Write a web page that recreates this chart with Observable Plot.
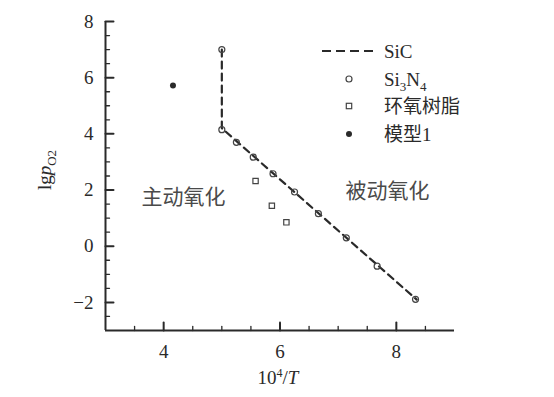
<!DOCTYPE html>
<html><head><meta charset="utf-8">
<script src="https://cdn.jsdelivr.net/npm/d3@7"></script>
<script src="https://cdn.jsdelivr.net/npm/@observablehq/plot@0.6"></script>
<style>body{margin:0;background:#fff} #chart svg{display:block}</style>
</head><body><div id="chart"></div>
<script>
// ---- data ----
const sicX = [5, 5, 8.35];
const sicY = [7, 4.2, -1.9];
const si3n4X = [5, 5, 5.25, 5.54, 5.88, 6.25, 6.66, 7.14, 7.67, 8.33];
const si3n4Y = [7, 4.15, 3.70, 3.17, 2.58, 1.93, 1.16, 0.30, -0.71, -1.89];
const epoxyX = [5.58, 5.86, 6.11];
const epoxyY = [2.32, 1.44, 0.85];
const modelX = [4.16];
const modelY = [5.72];
const regionLabels = ["主动氧化", "被动氧化"];
const regionX = [4.34, 7.85];
const regionY = [1.74, 1.95];
const xTicks = [4, 6, 8];
const yTicks = [-2, 0, 2, 4, 6, 8];
const xMinor = [3.5, 4.5, 5, 5.5, 6.5, 7, 7.5, 8.5];
const yMinor = [-2.5, -1.5, -1, -0.5, 0.5, 1, 1.5, 2.5, 3, 3.5, 4.5, 5, 5.5, 6.5, 7, 7.5];

const zip = (xs, ys) => xs.map((x, i) => ({x, y: ys[i]}));
const ink = "#2a2a2a";
const serif = "'Liberation Serif', 'DejaVu Serif', serif";
const cjk = "'Liberation Serif', 'Noto Sans CJK SC', sans-serif";
const stick = {draw(context, l) { context.moveTo(0, 0); context.lineTo(0, -l); }};
const fmt = d => d < 0 ? "\u2212" + Math.abs(d) : String(d);

const plot = Plot.plot({
  width: 554, height: 397,
  marginLeft: 105, marginRight: 100, marginTop: 21, marginBottom: 67,
  style: {fontFamily: serif, fontSize: "19px", color: ink, background: "#fff"},
  x: {domain: [3, 9]},
  y: {domain: [-3, 8]},
  marks: [
    // inward major / minor ticks
    Plot.vector(xTicks, {x: d => d, y: -3, length: 8, rotate: 0, anchor: "start", shape: stick, stroke: ink, strokeWidth: 2}),
    Plot.vector(xMinor, {x: d => d, y: -3, length: 4, rotate: 0, anchor: "start", shape: stick, stroke: ink, strokeWidth: 1.3}),
    Plot.vector(yTicks, {x: 3, y: d => d, length: 8, rotate: 90, anchor: "start", shape: stick, stroke: ink, strokeWidth: 2}),
    Plot.vector(yMinor, {x: 3, y: d => d, length: 4, rotate: 90, anchor: "start", shape: stick, stroke: ink, strokeWidth: 1.3}),
    Plot.ruleX([3], {stroke: ink, strokeWidth: 2}),
    Plot.ruleY([-3], {stroke: ink, strokeWidth: 2}),
    // tick labels
    Plot.axisX({ticks: xTicks, tickSize: 0, tickPadding: 14, label: null, fill: ink, fontSize: 19, tickFormat: fmt}),
    Plot.axisY({ticks: yTicks, tickSize: 0, tickPadding: 12, label: null, fill: ink, fontSize: 19, tickFormat: fmt}),
    // data
    Plot.line(zip(sicX, sicY), {x: "x", y: "y", stroke: ink, strokeWidth: 2.2, strokeDasharray: "7,5"}),
    Plot.dot(zip(si3n4X, si3n4Y), {x: "x", y: "y", r: 3, stroke: "#444", strokeWidth: 1.2, fill: "none"}),
    Plot.dot(zip(epoxyX, epoxyY), {x: "x", y: "y", symbol: "square", r: 3, stroke: "#444", strokeWidth: 1.2, fill: "none"}),
    Plot.dot(zip(modelX, modelY), {x: "x", y: "y", r: 3, fill: ink, stroke: "none"}),
    Plot.text(regionLabels.map((t, i) => ({t, x: regionX[i], y: regionY[i]})),
      {x: "x", y: "y", text: "t", fontSize: 21, fill: "#4a4a4a", fontFamily: "'Noto Sans CJK SC', sans-serif"})
  ]
});
document.getElementById("chart").appendChild(plot);

// axis titles and legend (rich text with sub/superscripts)
const svg = d3.select(plot);
const yl = svg.append("text")
  .attr("transform", "translate(51,170) rotate(-90)")
  .attr("text-anchor", "middle").attr("fill", ink)
  .style("font-family", serif).style("font-size", "19px");
yl.append("tspan").text("lg");
yl.append("tspan").attr("font-style", "italic").text("p");
yl.append("tspan").attr("dy", 5).style("font-size", "13px").text("O2");

const xl = svg.append("text")
  .attr("x", 278).attr("y", 384)
  .attr("text-anchor", "middle").attr("fill", ink)
  .style("font-family", serif).style("font-size", "19px");
xl.append("tspan").text("10");
xl.append("tspan").attr("dy", -7).style("font-size", "12px").text("4");
xl.append("tspan").attr("dy", 7).text("/");
xl.append("tspan").attr("font-style", "italic").text("T");

const lg = svg.append("g").style("font-family", cjk).style("font-size", "19px")
  .attr("fill", ink).attr("text-anchor", "start");
const rowY = [51, 79, 106, 134];
const mx = 349, tx = 384;
lg.append("line").attr("x1", 322).attr("x2", 378).attr("y1", rowY[0]).attr("y2", rowY[0])
  .attr("stroke", ink).attr("stroke-width", 2.2).attr("stroke-dasharray", "9,5");
lg.append("circle").attr("cx", mx).attr("cy", rowY[1]).attr("r", 3).attr("fill", "none").attr("stroke", "#444").attr("stroke-width", 1.2);
lg.append("rect").attr("x", mx - 2.7).attr("y", rowY[2] - 2.7).attr("width", 5.4).attr("height", 5.4).attr("fill", "none").attr("stroke", "#444").attr("stroke-width", 1.2);
lg.append("circle").attr("cx", mx).attr("cy", rowY[3]).attr("r", 3).attr("fill", ink);
lg.append("text").attr("x", tx).attr("y", rowY[0]).attr("dy", "0.35em").text("SiC");
const t1 = lg.append("text").attr("x", tx).attr("y", rowY[1]).attr("dy", "0.35em");
t1.append("tspan").text("Si");
t1.append("tspan").attr("dy", 5).style("font-size", "13px").text("3");
t1.append("tspan").attr("dy", -5).text("N");
t1.append("tspan").attr("dy", 5).style("font-size", "13px").text("4");
lg.append("text").attr("x", tx).attr("y", rowY[2]).attr("dy", "0.35em").text("环氧树脂");
lg.append("text").attr("x", tx).attr("y", rowY[3]).attr("dy", "0.35em").text("模型1");
</script>
</body></html>
